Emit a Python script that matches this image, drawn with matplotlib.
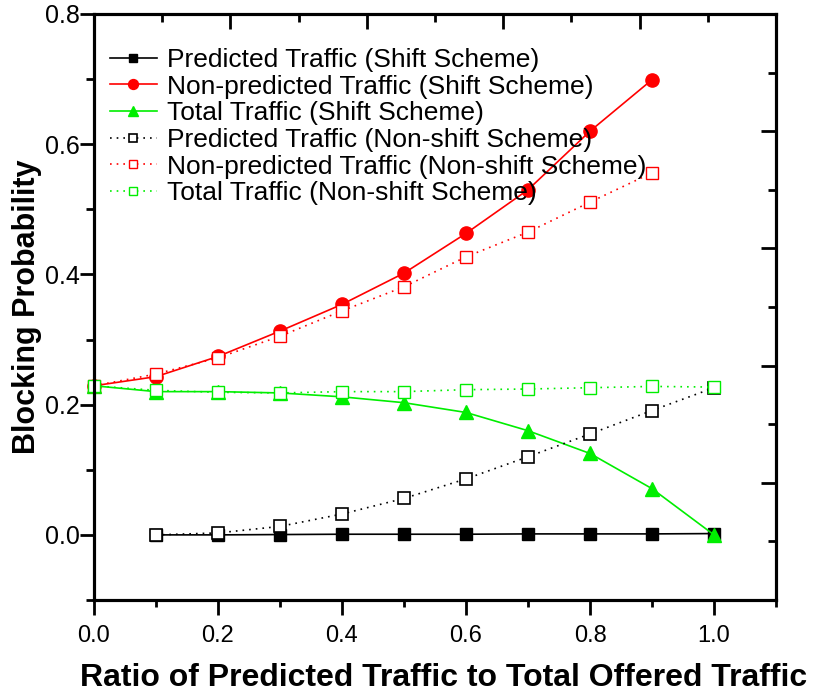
import matplotlib.pyplot as plt
from matplotlib.ticker import MultipleLocator

# ratio of predicted traffic to total offered traffic
ratio = [0.0, 0.1, 0.2, 0.3, 0.4, 0.5, 0.6, 0.7, 0.8, 0.9, 1.0]

# shift scheme
pred_shift = [0.0, 0.0, 0.0, 0.0005, 0.001, 0.001, 0.001, 0.0015, 0.0015, 0.0015, 0.002]
nonpred_shift = [0.229, 0.243, 0.274, 0.313, 0.354, 0.402, 0.463, 0.530, 0.620, 0.699]
total_shift = [0.229, 0.220, 0.220, 0.218, 0.212, 0.203, 0.188, 0.160, 0.125, 0.071, 0.0]

# non-shift scheme
pred_nonshift = [0.0, 0.003, 0.013, 0.032, 0.056, 0.086, 0.120, 0.155, 0.191, 0.226]
nonpred_nonshift = [0.229, 0.247, 0.272, 0.305, 0.344, 0.381, 0.427, 0.465, 0.511, 0.556]
total_nonshift = [0.229, 0.222, 0.219, 0.218, 0.220, 0.220, 0.223, 0.224, 0.226, 0.228, 0.227]

labels = [
    "Predicted Traffic (Shift Scheme)",
    "Non-predicted Traffic (Shift Scheme)",
    "Total Traffic (Shift Scheme)",
    "Predicted Traffic (Non-shift Scheme)",
    "Non-predicted Traffic (Non-shift Scheme)",
    "Total Traffic (Non-shift Scheme)",
]

plt.rcParams['font.family'] = ['Liberation Sans', 'DejaVu Sans']

fig = plt.figure(figsize=(8.13, 6.95), dpi=100)
ax = fig.add_axes([0.1156, 0.1367, 0.8389, 0.8432])

green = '#00ee00'
dot = (0, (1, 3))
lw = 1.2
ax.plot(ratio[1:], pred_shift[1:], color='black', lw=lw, marker='s', ms=8,
        label=labels[0], clip_on=False, zorder=3)
ax.plot(ratio[:10], nonpred_shift, color='red', lw=lw, marker='o', ms=9.5,
        label=labels[1], clip_on=False, zorder=3)
ax.plot(ratio, total_shift, color=green, lw=lw, marker='^', ms=10,
        label=labels[2], clip_on=False, zorder=3)
ax.plot(ratio[1:], pred_nonshift, color='black', lw=lw, ls=dot, marker='s', ms=8,
        mfc='white', mew=1.2, label=labels[3], clip_on=False, zorder=4)
ax.plot(ratio[:10], nonpred_nonshift, color='red', lw=lw, ls=dot, marker='s', ms=8,
        mfc='white', mew=1.0, label=labels[4], clip_on=False, zorder=4)
ax.plot(ratio, total_nonshift, color=green, lw=lw, ls=dot, marker='s', ms=8,
        mfc='white', mew=1.0, label=labels[5], clip_on=False, zorder=4)

ax.set_xlim(0, 1.1)
ax.set_ylim(-0.1, 0.8)
ax.set_xticks([0.0, 0.2, 0.4, 0.6, 0.8, 1.0])
ax.set_yticks([0.0, 0.2, 0.4, 0.6, 0.8])
ax.xaxis.set_minor_locator(MultipleLocator(0.1))
ax.yaxis.set_minor_locator(MultipleLocator(0.1))

for s in ax.spines.values():
    s.set_linewidth(2.2)

ax.tick_params(axis='x', which='major', direction='out', length=11, width=2,
               labelsize=17, pad=7)
ax.tick_params(axis='x', which='minor', direction='out', length=5, width=2)
ax.tick_params(axis='y', which='major', direction='out', length=10, width=2,
               labelsize=18, pad=0)
ax.tick_params(axis='y', which='minor', direction='out', length=6, width=2)

# top and right frame ticks: ten divisions each, pointing inwards
ax2 = ax.twinx()
ax2.set_ylim(0, 1)
ax2.yaxis.set_major_locator(MultipleLocator(0.2))
ax2.yaxis.set_minor_locator(MultipleLocator(0.1))
ax2.tick_params(axis='y', which='major', direction='in', length=11, width=2,
                labelright=False)
ax2.tick_params(axis='y', which='minor', direction='in', length=6, width=2)
ax3 = ax.twiny()
ax3.set_xlim(0, 1)
ax3.xaxis.set_major_locator(MultipleLocator(0.2))
ax3.xaxis.set_minor_locator(MultipleLocator(0.1))
ax3.tick_params(axis='x', which='major', direction='in', length=11, width=2,
                labeltop=False)
ax3.tick_params(axis='x', which='minor', direction='in', length=6, width=2)
for a in (ax2, ax3):
    for s in a.spines.values():
        s.set_linewidth(2.2)

ax.set_xlabel("Ratio of Predicted Traffic to Total Offered Traffic",
              fontsize=23, fontweight='bold')
ax.xaxis.set_label_coords(0.513, -0.108)
ax.set_ylabel("Blocking Probability", fontsize=22, fontweight='bold', labelpad=2)

ax.legend(loc='upper left', bbox_to_anchor=(0.024, 0.942), frameon=False,
          fontsize=19, handlelength=1.75, handletextpad=0.38, labelspacing=0.1,
          borderaxespad=0, borderpad=0, markerscale=0.75)

fig.savefig('out.png', dpi=100)
